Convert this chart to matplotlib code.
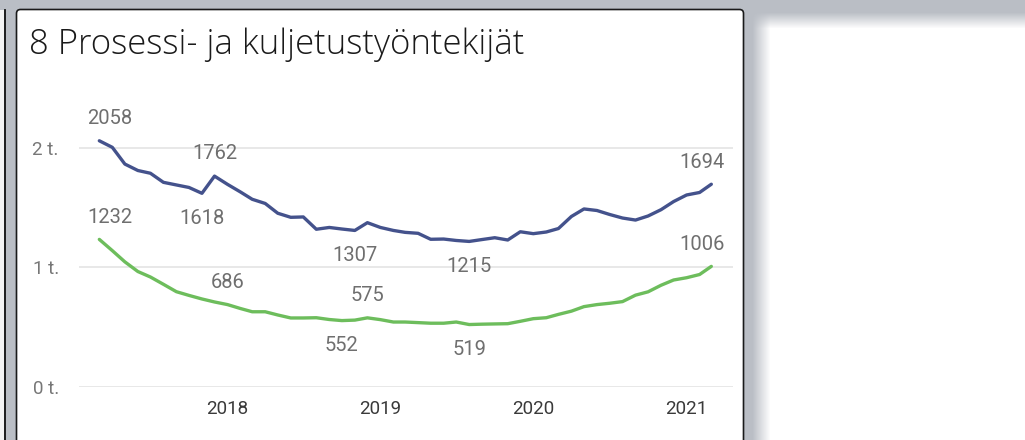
import numpy as np
import pandas as pd
import matplotlib
matplotlib.use("Agg")
import matplotlib.pyplot as plt
import matplotlib.dates as mdates
from matplotlib.patches import FancyBboxPatch, Rectangle

# ---------------- data ----------------
title = "8 Prosessi- ja kuljetustyöntekijät"
months = pd.date_range("2017-03-01", "2021-03-01", freq="MS")

series_a = [2058, 2003, 1863, 1809, 1786, 1710, 1688, 1667, 1618, 1762,
            1693, 1629, 1568, 1533, 1451, 1417, 1420, 1317, 1332, 1319, 1307, 1372,
            1332, 1307, 1291, 1283, 1233, 1235, 1223, 1215, 1231, 1246, 1227, 1296,
            1280, 1294, 1323, 1424, 1487, 1474, 1441, 1411, 1394, 1428, 1481, 1549,
            1604, 1625, 1694]
series_b = [1232, 1138, 1044, 963, 917, 856, 794, 763, 733, 708,
            686, 653, 626, 626, 599, 574, 574, 576, 561, 552, 556, 575,
            560, 540, 540, 535, 530, 530, 540, 519, 522, 524, 526, 546,
            568, 576, 604, 631, 669, 686, 697, 711, 765, 793, 848, 892,
            911, 938, 1006]

labels_a = [0, 8, 9, 20, 29, 48]
labels_a_pos = ["above", "below", "above", "below", "below", "above"]
labels_b = [0, 10, 19, 21, 29, 48]
labels_b_pos = ["above", "above", "below", "above", "below", "above"]

ytick_vals = [0, 1000, 2000]
ytick_labels = ["0 t.", "1 t.", "2 t."]
xtick_years = [2018, 2019, 2020, 2021]

color_a = "#44528c"
color_b = "#6dbd5c"

# ---------------- figure ----------------
W, H = 1025, 440
fig = plt.figure(figsize=(W / 100, H / 100), dpi=100)

# background (Power BI canvas)
bg = fig.add_axes([0, 0, 1, 1], zorder=0)
bg.set_xlim(0, W)
bg.set_ylim(H, 0)
bg.axis("off")
xx, yy = np.meshgrid(np.arange(W), np.arange(H))
gray = np.array([186, 190, 197]) / 255.0
mx = np.clip((xx - 752) / 18.0, 0, 1)
my = np.clip((yy - 12) / 16.0, 0, 1)
m = (mx * my)[..., None]
img = gray * (1 - m) + np.ones(3) * m
bg.imshow(img, extent=(0, W, H, 0), aspect="auto", interpolation="bilinear")
bg.add_patch(Rectangle((0, 10), 4, H, facecolor="#f4f4f4", edgecolor="none"))
bg.plot([4.5, 4.5], [10, H], color="#111111", lw=1.3)
bg.add_patch(FancyBboxPatch((16.5, 9.5), 727, 440, boxstyle="round,pad=0,rounding_size=4",
                            facecolor="white", edgecolor="#1a1a1a", lw=1.2))
bg.text(29, 54, title, fontsize=25, family="Open Sans", fontweight="light",
        color="#1a1a1a", va="baseline", ha="left")

# main axes
y0_px, ytop_px = 386.5, 100.0
ax = fig.add_axes([79 / W, 1 - y0_px / H, (733 - 79) / W, (y0_px - ytop_px) / H], zorder=2)
ax.patch.set_alpha(0)
days_per_px = 365.25 / 153.0
x2018 = mdates.date2num(pd.Timestamp("2018-01-01"))
ax.set_xlim(x2018 - 148.5 * days_per_px, x2018 + (733 - 227.5) * days_per_px)
ax.set_ylim(0, (y0_px - ytop_px) / 0.1194)

xs = mdates.date2num(months)
ax.plot(xs, series_a, color=color_a, lw=2.4, solid_capstyle="round", solid_joinstyle="round", zorder=3)
ax.plot(xs, series_b, color=color_b, lw=2.4, solid_capstyle="round", solid_joinstyle="round", zorder=3)

ax.set_yticks(ytick_vals)
ax.set_yticklabels(ytick_labels)
ax.set_xticks([mdates.date2num(pd.Timestamp(f"{y}-01-01")) for y in xtick_years])
ax.set_xticklabels([str(y) for y in xtick_years])
ax.grid(axis="y", color="#e6e6e6", lw=1.3)
ax.set_axisbelow(True)
for s in ax.spines.values():
    s.set_visible(False)
ax.tick_params(axis="both", length=0)
ax.tick_params(axis="y", pad=14.5, labelsize=13.5, labelcolor="#777777")
ax.tick_params(axis="x", pad=10, labelsize=13.5, labelcolor="#3a3a3a")
for t in ax.get_yticklabels() + ax.get_xticklabels():
    t.set_family("Roboto")

def add_labels(vals, idxs, poss):
    n = len(vals)
    for i, p in zip(idxs, poss):
        dx = 0
        if i == 0:
            dx = 7.5
        elif i == n - 1:
            dx = -6.5
        dy = 16 if p == "above" else -18
        ax.annotate(str(vals[i]), (xs[i], vals[i]), xytext=(dx, dy), textcoords="offset points",
                    ha="center", va="center", fontsize=14.5, family="Roboto", color="#6f6f6f",
                    zorder=4)

add_labels(series_a, labels_a, labels_a_pos)
add_labels(series_b, labels_b, labels_b_pos)

fig.savefig("out.png", dpi=100)
